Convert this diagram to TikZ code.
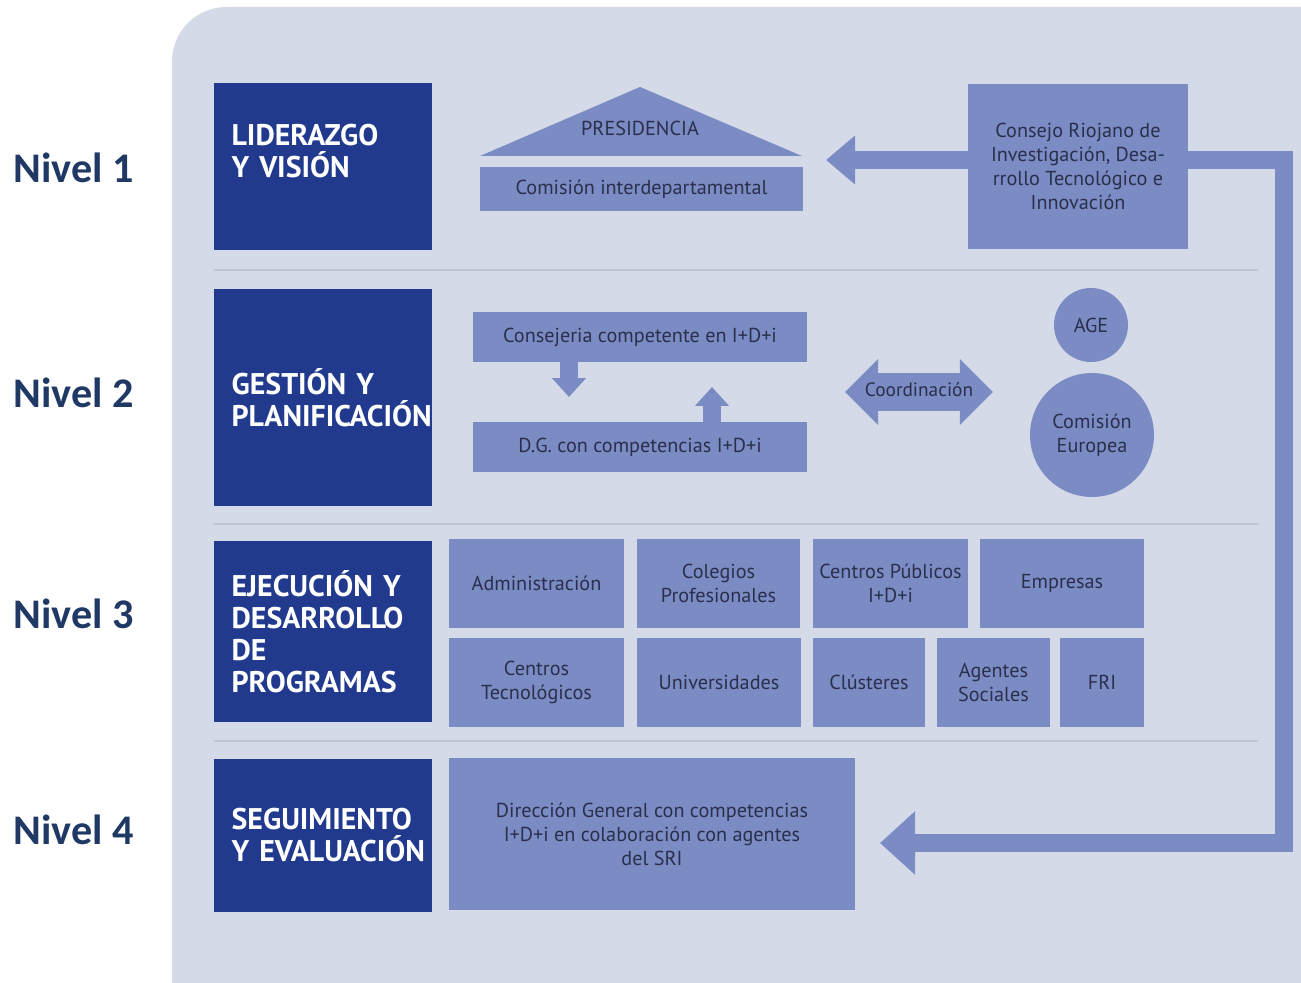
\documentclass[tikz,border=0pt]{standalone}
\usepackage{fontspec}
\usepackage{xcolor}
\usepackage{tikz}
\usetikzlibrary{arrows.meta, shapes.arrows}
\setmainfont{PT Sans}
\newfontfamily\nivelfont{Carlito}

\definecolor{fondo}{HTML}{D5DAE8}
\definecolor{oscuro}{HTML}{213A8E}
\definecolor{medio}{HTML}{7B8BC3}
\definecolor{texto}{HTML}{2A2F4C}
\definecolor{nivel}{HTML}{1F3864}
\definecolor{raya}{HTML}{BEC4D6}

\tikzset{
  sz/.style 2 args={minimum width=#1*0.2mm, minimum height=#2*0.2mm},
  titulo/.style={fill=oscuro, text=white, inner xsep=9.6pt, inner ysep=0pt,
    text width=104pt, align=left, font=\bfseries\fontsize{17}{18.2}\selectfont},
  caja/.style={fill=medio, text=texto, align=center, inner sep=0pt,
    font=\fontsize{11.5}{13.6}\selectfont},
  circulo/.style={circle, fill=medio, text=texto, align=center, inner sep=0pt,
    font=\fontsize{11.5}{13.6}\selectfont},
  etiqueta/.style={anchor=west, inner sep=0pt, text=nivel,
    font=\nivelfont\bfseries\fontsize{24}{28}\selectfont},
  flecha/.style={draw=medio, line width=9.7pt, -{Triangle[length=16.5pt, width=26.7pt]}},
  flechalarga/.style={draw=medio, line width=9.7pt, -{Triangle[length=20pt, width=35pt]}},
  flechita/.style={draw=medio, line width=9.7pt, -{Triangle[length=10.8pt, width=18.8pt]}},
}

\begin{document}
\begin{tikzpicture}[x=0.02cm, y=-0.02cm]
  \useasboundingbox (0, 0) rectangle (1301, 983);

  % fondo
  \fill[fondo] (172, 983) [rounded corners=31pt] -- (172, 7) [sharp corners] -- (1301, 7) -- (1301, 983) -- cycle;
  \draw[raya, line width=1pt] (214, 270) -- (1258, 270);
  \draw[raya, line width=1pt] (214, 524) -- (1258, 524);
  \draw[raya, line width=1pt] (214, 741) -- (1258, 741);

  % niveles
  \node[etiqueta] (n1) at (13, 168) {Nivel 1};
  \node[etiqueta] (n2) at (13, 393) {Nivel 2};
  \node[etiqueta] (n3) at (13, 614) {Nivel 3};
  \node[etiqueta] (n4) at (13, 830) {Nivel 4};

  \node[titulo, sz={218}{167}] (lid) at (323, 166.5) {LIDERAZGO\\Y VISIÓN\\\phantom{Y}};
  \node[titulo, sz={218}{217}] (ges) at (323, 397.5) {\mbox{GESTIÓN Y}\\\mbox{PLANIFICACIÓN}};
  \node[titulo, sz={218}{181}] (eje) at (323, 631.5) {\mbox{EJECUCIÓN Y}\\\mbox{DESARROLLO}\\DE\\\mbox{PROGRAMAS}};
  \node[titulo, sz={218}{153}] (seg) at (323, 835.5) {\mbox{SEGUIMIENTO}\\\mbox{Y EVALUACIÓN}};

  % nivel 1
  \fill[medio] (480, 156) -- (640, 87) -- (802, 156) -- cycle;
  \node[caja, fill=none] (presi) at (640, 128) {PRESIDENCIA};
  \node[caja, sz={323}{44}] (comi) at (641.5, 189) {Comisión interdepartamental};
  \node[caja, sz={220}{165}] (consejo) at (1078, 166.5)
    {Consejo Riojano de\\Investigación, Desa-\\rrollo Tecnológico e\\Innovación};

  % nivel 2
  \node[caja, sz={334}{50}] (conse) at (640, 337) {Consejeria competente en I+D+i};
  \node[caja, sz={334}{50}] (dg) at (640, 447) {D.G. con competencias I+D+i};
  \node[double arrow, fill=medio, text=texto, minimum height=84pt,
    double arrow head extend=8pt, inner xsep=0pt, inner ysep=6pt,
    text height=7pt, text depth=2pt, font=\fontsize{11}{13.6}\selectfont] (coord) at (919, 392) {Coordinación};
  \node[circulo, minimum size=74*0.2mm] (age) at (1091, 325) {AGE};
  \node[circulo, minimum size=124*0.2mm] (ce) at (1092, 435) {Comisión\\Europea};

  % nivel 3
  \node[caja, sz={175}{89}] (adm) at (536.5, 583.5) {Administración};
  \node[caja, sz={163}{89}] (col) at (718.5, 583.5) {Colegios\\Profesionales};
  \node[caja, sz={155}{89}] (cpub) at (890.5, 583.5) {Centros Públicos\\I+D+i};
  \node[caja, sz={164}{89}] (emp) at (1062, 583.5) {Empresas};
  \node[caja, sz={175}{89}] (ctec) at (536.5, 682.5) {Centros\\Tecnológicos};
  \node[caja, sz={164}{89}] (uni) at (719, 682.5) {Universidades};
  \node[caja, sz={112}{89}] (clu) at (869, 682.5) {Clústeres};
  \node[caja, sz={113}{89}] (agen) at (993.5, 682.5) {Agentes\\Sociales};
  \node[caja, sz={84}{89}] (fri) at (1102, 682.5) {FRI};

  % nivel 4
  \node[caja, sz={406}{152}] (dir) at (652, 834)
    {Dirección General con competencias\\I+D+i en colaboración con agentes\\del SRI};

  % flechas
  \coordinate (puntaA) at (826, 160);
  \coordinate (esq1) at (1284, 160);
  \coordinate (esq2) at (1284, 843);
  \coordinate (puntaB) at (880, 843);
  \coordinate (puntaC) at (569, 397);
  \coordinate (puntaD) at (712, 387);

  \draw[flecha] (consejo.west |- puntaA) -- (puntaA); % consejo-presidencia
  \draw[flechalarga] (consejo.east |- esq1) -- (esq1) -- (esq2) -- (puntaB); % consejo-direccion
  \draw[flechita] (conse.south -| puntaC) -- (puntaC); % consejeria-dg
  \draw[flechita] (dg.north -| puntaD) -- (puntaD); % dg-consejeria
\end{tikzpicture}
\end{document}
